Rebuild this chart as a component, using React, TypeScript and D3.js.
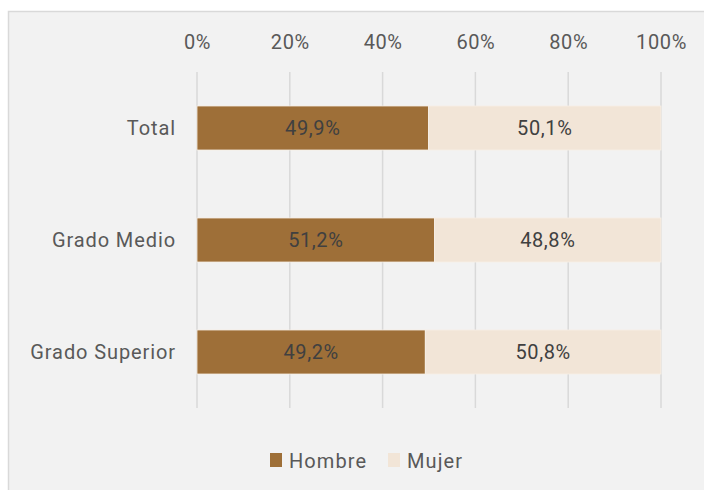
import React from "react";
import * as d3 from "d3";

const categories = ["Total", "Grado Medio", "Grado Superior"];
const hombre = [49.9, 51.2, 49.2];
const mujer = [50.1, 48.8, 50.8];
const tickValues = [0, 20, 40, 60, 80, 100];
const seriesNames = ["Hombre", "Mujer"];
const seriesColors = ["#9e6f38", "#f2e5d7"];

const W = 704;
const H = 490;
const FONT = "Roboto, 'Liberation Sans', sans-serif";

export default function App() {
  const x = d3.scaleLinear().domain([0, 100]).range([197, 661]);
  const y = d3.scaleBand<string>().domain(categories).range([72, 408]).paddingInner(0.607).paddingOuter(0.3035);
  const fmt = (v: number) => v.toFixed(1).replace(".", ",") + "%";
  const stacks = categories.map((c, i) => [
    { key: seriesNames[0], x0: 0, x1: hombre[i], v: hombre[i], color: seriesColors[0] },
    { key: seriesNames[1], x0: hombre[i], x1: hombre[i] + mujer[i], v: mujer[i], color: seriesColors[1] },
  ]);
  const legendItems = [
    { name: seriesNames[0], color: seriesColors[0], x: 270 },
    { name: seriesNames[1], color: seriesColors[1], x: 388 },
  ];
  return (
    <svg width={W} height={H} style={{ position: "absolute", left: 0, top: 0, fontFamily: FONT }}>
      <rect x={0} y={0} width={W} height={H} fill="#ffffff" />
      <rect x={8.5} y={11.5} width={W + 10} height={H + 10} fill="#f2f2f2" stroke="#d9d9d9" strokeWidth={1.5} />
      {tickValues.map((t) => (
        <g key={t}>
          <line x1={x(t)} x2={x(t)} y1={72} y2={408} stroke="#d9d9d9" strokeWidth={1.5} />
          <text x={x(t) + 0.5} y={42} textAnchor="middle" dominantBaseline="central" fontSize={20} fill="#595959" letterSpacing={0.6}>
            {t}%
          </text>
        </g>
      ))}
      {categories.map((c, i) => (
        <g key={c}>
          <text x={176} y={(y(c) as number) + y.bandwidth() / 2} textAnchor="end" dominantBaseline="central" fontSize={20} fill="#595959" letterSpacing={0.9}>
            {c}
          </text>
          {stacks[i].map((s) => (
            <g key={s.key}>
              <rect
                x={x(s.x0)}
                y={y(c)}
                width={x(s.x1) - x(s.x0)}
                height={y.bandwidth()}
                fill={s.color}
                stroke="#f7efe6"
                strokeWidth={0.8}
              />
              <text
                x={(x(s.x0) + x(s.x1)) / 2}
                y={(y(c) as number) + y.bandwidth() / 2}
                textAnchor="middle"
                dominantBaseline="central"
                fontSize={20}
                fill="#404040"
                letterSpacing={0.6}
              >
                {fmt(s.v)}
              </text>
            </g>
          ))}
        </g>
      ))}
      {legendItems.map((l) => (
        <g key={l.name}>
          <rect x={l.x} y={453} width={12} height={14} fill={l.color} />
          <text x={l.x + 19} y={461} dominantBaseline="central" fontSize={20} fill="#595959" letterSpacing={1.1}>
            {l.name}
          </text>
        </g>
      ))}
    </svg>
  );
}
